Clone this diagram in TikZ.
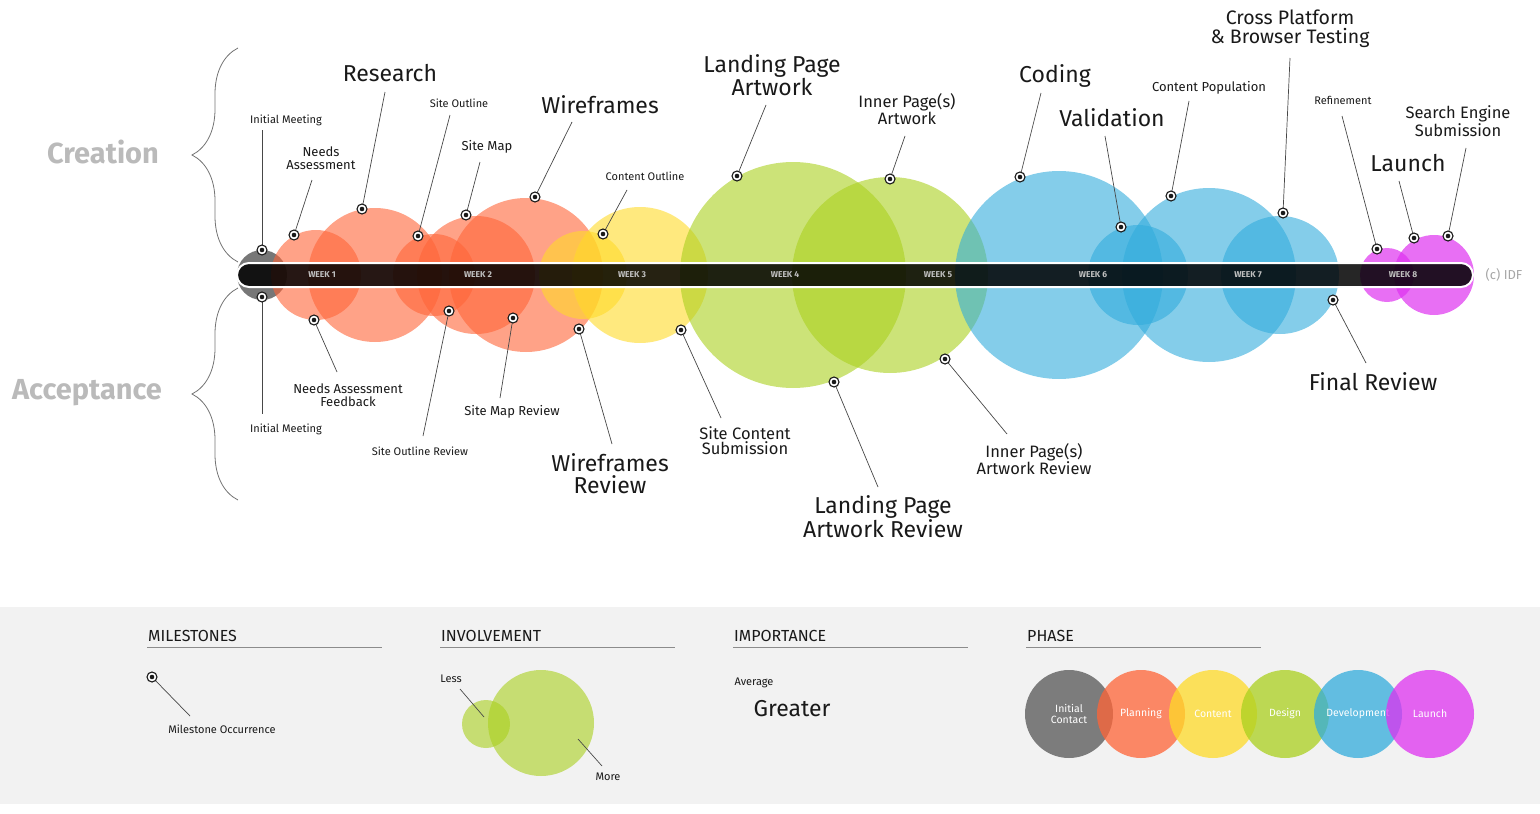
\documentclass[tikz,border=0pt]{standalone}
\usepackage{fontspec}
\setmainfont{Fira Sans}
\usetikzlibrary{arrows.meta, positioning, calc, decorations.pathreplacing}
\definecolor{colOrange}{RGB}{255, 100, 55}
\definecolor{colYellow}{RGB}{255, 218, 40}
\definecolor{colGreen}{RGB}{170, 208, 30}
\definecolor{colBlue}{RGB}{50, 172, 220}
\definecolor{colPurple}{RGB}{222, 50, 240}
\definecolor{colGrey}{RGB}{85, 85, 85}
\definecolor{colText}{RGB}{25, 25, 25}
\definecolor{colBand}{RGB}{242, 242, 242}
\tikzset{
    bubble/.style={fill=#1, fill opacity=0.6},
    mstone/.style={circle, draw=colText, fill=white, line width=1.1pt, inner sep=0pt,
        minimum size=10pt, path picture={\fill[colText] (path picture bounding box.center) circle (2.3pt);}},
    lead/.style={draw=colText!80, line width=0.7pt},
    lblS/.style={text=colText, font=\fontsize{11}{11}\selectfont, align=center},
    lblM/.style={text=colText, font=\fontsize{16.5}{15}\selectfont, align=center},
    lblL/.style={text=colText, font=\fontsize{23}{22}\selectfont, align=center},
    side/.style={text=black!27, font=\bfseries\fontsize{29}{29}\selectfont},
    curly/.style={decorate, decoration={brace, amplitude=46pt, aspect=0.5}, draw=black!55, line width=0.8pt},
    week/.style={text=black!25, font=\bfseries\fontsize{8.5}{8.5}\selectfont},
    head/.style={text=colText, font=\fontsize{16}{16}\selectfont, anchor=south west, inner sep=1pt},
    phase/.style={circle, minimum size=88pt, inner sep=0pt, text=white, fill opacity=0.75, text opacity=1,
        font=\fontsize{10.5}{11}\selectfont, align=center}
}
\begin{document}
\begin{tikzpicture}[x=1pt, y=-1pt]
    \useasboundingbox (0,0) rectangle (1540,814);
    % --- bubbles ---
    \fill[bubble=colGrey, fill opacity=0.8] (262,275) circle (25);
    \foreach \cx/\r in {316/45, 375/67, 434/41, 476/59, 526/77}
        \fill[bubble=colOrange] (\cx,275) circle (\r);
    \foreach \cx/\r in {583/44, 640/68}
        \fill[bubble=colYellow] (\cx,275) circle (\r);
    \foreach \cx/\r in {793/113, 890/98}
        \fill[bubble=colGreen] (\cx,275) circle (\r);
    \foreach \cx/\r in {1059/104, 1138/50, 1209/87, 1280/59}
        \fill[bubble=colBlue] (\cx,275) circle (\r);
    \foreach \cx/\r in {1387/27, 1434/40}
        \fill[bubble=colPurple, fill opacity=0.7] (\cx,275) circle (\r);

    % --- timeline ---
    \draw[white, line width=2pt, fill=black, fill opacity=0.85, rounded corners=12pt]
        (237,263) rectangle (1473,287);
    \foreach \wx [count=\w] in {322, 478, 632, 785, 938, 1093, 1248, 1403}
        \node[week] (wk\w) at (\wx,275) {WEEK \w};
    \node[text=black!35, font=\fontsize{13}{13}\selectfont] (copy) at (1504,275) {(c) IDF};

    % --- milestones ---
    \foreach \n/\mx/\my/\ex/\ey in {
        a/262/250/262/130, b/294/235/312/180, c/362/209/385/92, d/418/236/450/115,
        e/466/215/480/162, f/535/197/572/122, g/603/234/627/190, h/737/176/766/105,
        i/890/179/905/136, j/1020/177/1041/93, k/1121/227/1105/136, l/1171/196/1189/101,
        m/1283/213/1290/58, n/1377/249/1342/116, o/1414/238/1399/181, p/1448/236/1466/148,
        q/262/297/262/414, r/314/320/337/372, s/449/311/423/436, t/513/318/500/398,
        u/579/329/612/444, v/681/330/721/418, w/834/382/878/487, x/945/359/1007/434,
        y/1333/300/1366/363} {
        \coordinate (e\n) at (\ex,\ey);
        \draw[lead] (\mx,\my) -- (e\n);
        \node[mstone] (m\n) at (\mx,\my) {};
    }

    % --- labels above ---
    \node[lblS] (ta) at (286,120) {Initial Meeting};
    \node[lblS, font=\fontsize{13}{13}\selectfont] (tb) at (321,158) {Needs\\Assessment};
    \node[lblL] (tc) at (390,73) {Research};
    \node[lblS] (td) at (459,103) {Site Outline};
    \node[lblS, font=\fontsize{13}{13}\selectfont] (te) at (487,147) {Site Map};
    \node[lblL] (tf) at (600,105) {Wireframes};
    \node[lblS] (tg) at (645,176) {Content Outline};
    \node[lblL] (th) at (772,75) {Landing Page\\Artwork};
    \node[lblM] (ti) at (907,109) {Inner Page(s)\\Artwork};
    \node[lblL] (tj) at (1055,76) {Coding};
    \node[lblL] (tk) at (1112,118) {Validation};
    \node[lblS, font=\fontsize{13}{13}\selectfont] (tl) at (1209,88) {Content Population};
    \node[lblM, font=\fontsize{19.5}{19}\selectfont] (tm) at (1290,29) {Cross Platform\\\& Browser Testing};
    \node[lblS] (tn) at (1343,100) {Refinement};
    \node[lblL] (to) at (1408,163) {Launch};
    \node[lblM] (tp) at (1458,121) {Search Engine\\Submission};

    % --- labels below ---
    \node[lblS] (tq) at (286,429) {Initial Meeting};
    \node[lblS, font=\fontsize{13}{13}\selectfont] (tr) at (348,395) {Needs Assessment\\Feedback};
    \node[lblS] (ts) at (420,451) {Site Outline Review};
    \node[lblS, font=\fontsize{13}{13}\selectfont] (tt) at (512,412) {Site Map Review};
    \node[lblL] (tu) at (610,474) {Wireframes\\Review};
    \node[lblM] (tv) at (745,441) {Site Content\\Submission};
    \node[lblL] (tw) at (883,517) {Landing Page\\Artwork Review};
    \node[lblM] (tx) at (1034,459) {Inner Page(s)\\Artwork Review};
    \node[lblL] (ty) at (1373,382) {Final Review};

    % --- braces ---
    \draw[curly] (238,262) -- (238,48);
    \draw[curly] (238,500) -- (238,288);
    \node[side] (creation) at (103,152) {Creation};
    \node[side] (acceptance) at (87,393) {Acceptance};

    % --- legend ---
    \fill[colBand] (0,607) rectangle (1540,804);
    \foreach \hx/\hname in {147/MILESTONES, 440/INVOLVEMENT, 733/IMPORTANCE, 1026/PHASE} {
        \node[head] (h\hname) at (\hx,643) {\hname};
        \draw[black!45, line width=0.8pt] (\hx,647) -- (\hx+235,647);
    }
    \coordinate (lm) at (190,716);
    \draw[lead] (152,677) -- (lm);
    \node[mstone] (legm) at (152,677) {};
    \node[lblS] (occ) at (222,729) {Milestone Occurrence};

    \fill[bubble=colGreen] (486,724) circle (24);
    \fill[bubble=colGreen] (541,723) circle (53);
    \node[lblS] (less) at (451,679) {Less};
    \node[lblS] (more) at (608,777) {More};
    \draw[lead] (460,689) -- (484,717);
    \draw[lead] (578,739) -- (602,766);

    \node[lblS] (avg) at (754,683) {Average};
    \node[lblL] (greater) at (792,709) {Greater};

    \node[phase, fill=colGrey] (pInit) at (1069,714) {Initial\\Contact};
    \node[phase, fill=colOrange] (pPlan) at (1141,714) {Planning};
    \node[phase, fill=colYellow] (pCont) at (1213,714) {Content};
    \node[phase, fill=colGreen] (pDes) at (1285,714) {Design};
    \node[phase, fill=colBlue] (pDev) at (1358,714) {Development};
    \node[phase, fill=colPurple] (pLaunch) at (1430,714) {Launch};
\end{tikzpicture}
\end{document}
